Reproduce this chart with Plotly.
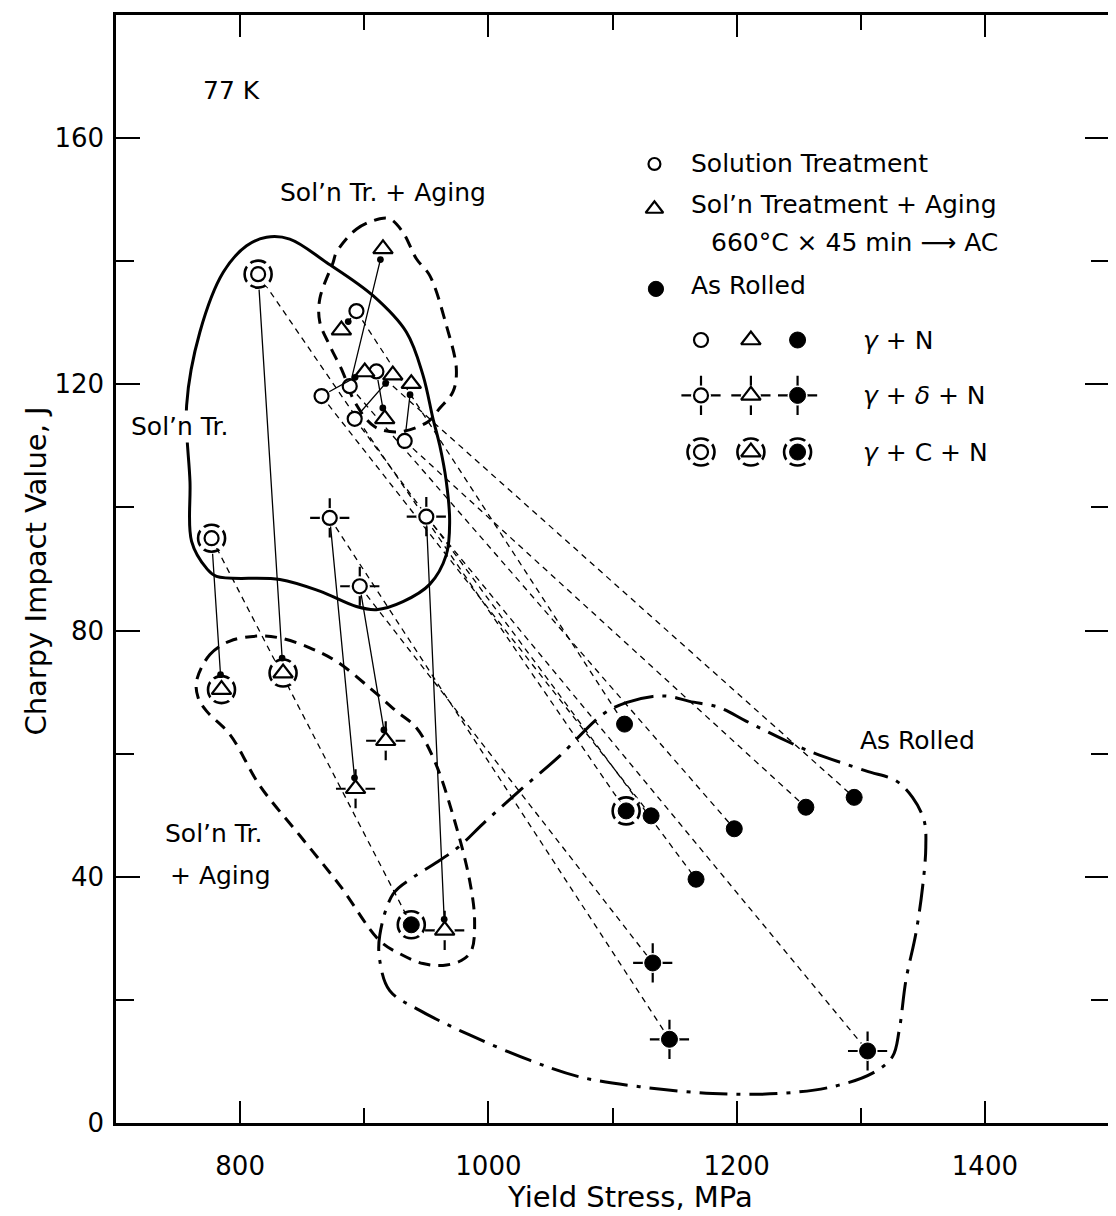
import plotly.graph_objects as go

# ---------------- data (yield stress MPa, Charpy J) ----------------
# Solution treated
st_gn_x = [893.7, 888.3, 865.6, 909.8, 892.3, 932.6]
st_gn_y = [131.9, 119.7, 118.1, 122.1, 114.4, 110.8]
st_gdn_x = [872.2, 950.0, 896.4]
st_gdn_y = [98.3, 98.5, 87.2]
st_gcn_x = [814.5, 777.0]
st_gcn_y = [137.9, 95.0]

# Solution treated + aged (same order as solution treated)
ag_gn_x = [881.6, 915.1, 900.4, 916.5, 923.0, 937.9]
ag_gn_y = [128.8, 142.0, 122.0, 114.4, 121.5, 120.1]
ag_gdn_x = [893.0, 964.8, 917.3]
ag_gdn_y = [54.3, 31.3, 62.1]
ag_gcn_x = [834.6, 785.0]
ag_gcn_y = [73.1, 70.4]

# As rolled (same order as solution treated)
ar_gn_x = [1109.7, 1198.1, 1131.1, 1294.7, 1167.3, 1255.8]
ar_gn_y = [64.8, 47.8, 49.9, 52.9, 39.6, 51.3]
ar_gdn_x = [1145.9, 1305.5, 1132.4]
ar_gdn_y = [13.6, 11.7, 26.0]
ar_gcn_x = [1111.0, 937.9]
ar_gcn_y = [50.7, 32.2]

# Region outlines
sol_x = [756.9, 767.6, 786.4, 805.2, 821.3, 840.0, 869.6, 907.1, 933.9, 947.3, 955.4, 960.8,
         966.1, 968.8, 966.1, 952.7, 931.2, 909.8, 893.7, 864.2, 832.0, 781.0, 773.0, 760.9, 759.6]
sol_y = [116.6, 128.5, 138.2, 142.5, 143.9, 143.6, 139.8, 134.4, 128.5, 121.5, 114.4, 110.1,
         104.2, 97.7, 92.3, 87.5, 84.7, 83.4, 83.9, 86.4, 88.3, 88.8, 90.1, 94.5, 104.2]
agu_x = [877.5, 893.6, 912.5, 920.5, 931.2, 942.0, 952.7, 966.1, 974.2, 971.5, 960.8, 951.1,
         928.6, 908.5, 892.4, 882.7, 872.2, 864.2, 864.2, 874.9]
agu_y = [141.4, 145.2, 146.9, 146.9, 144.7, 140.4, 137.7, 129.6, 122.5, 118.8, 116.1, 113.9,
         112.3, 113.1, 117.1, 122.0, 126.3, 130.1, 133.9, 139.8]
agl_x = [764.9, 775.7, 791.8, 813.2, 832.0, 856.1, 877.6, 904.4, 925.9, 942.0, 956.7, 972.8,
         984.9, 988.9, 986.3, 978.2, 963.4, 947.3, 928.6, 912.5, 880.3, 848.1, 815.9, 791.8, 773.0, 766.2]
agl_y = [71.8, 76.1, 78.3, 79.1, 78.8, 77.2, 75.0, 70.7, 66.9, 64.2, 58.8, 49.1,
         39.4, 32.9, 28.0, 26.4, 25.6, 25.9, 27.5, 29.6, 38.6, 46.7, 54.8, 63.1, 66.9, 69.1]
arr_x = [1092.2, 1111.0, 1132.4, 1145.9, 1162.0, 1186.1, 1207.6, 1239.8, 1261.2, 1304.2, 1328.3,
         1341.7, 1351.1, 1352.4, 1349.8, 1344.4, 1336.4, 1331.0, 1325.6, 1309.5, 1277.3, 1234.4,
         1180.7, 1121.7, 1073.4, 1033.2, 984.9, 944.7, 920.5, 912.5, 912.5, 923.2, 939.3, 958.1,
         976.9, 995.6, 1025.2, 1057.3]
arr_y = [66.4, 68.3, 69.3, 69.3, 68.5, 67.5, 65.3, 62.1, 60.2, 57.2, 55.6, 52.9, 49.1, 44.8,
         38.3, 30.8, 23.2, 15.1, 10.8, 8.1, 5.9, 4.8, 4.8, 5.9, 7.5, 10.2, 14.3, 18.3, 21.5,
         26.4, 30.5, 37.2, 39.9, 42.3, 45.0, 48.6, 54.0, 59.6]

x_ticks = [800, 1000, 1200, 1400]
x_minor = [900, 1100, 1300]
y_ticks = [0, 40, 80, 120, 160]
y_minor = [20, 60, 100, 140]

FONT = "DejaVu Sans"
fig = go.Figure()


def seg_trace(x0, y0, x1, y1, dash, width):
    xs, ys = [], []
    for a, b, c, d in zip(x0, y0, x1, y1):
        xs += [a, c, None]
        ys += [b, d, None]
    fig.add_trace(go.Scatter(x=xs, y=ys, mode="lines", hoverinfo="skip", showlegend=False,
                             line=dict(color="black", width=width, dash=dash)))


def outline(xs, ys, dash, width=3):
    fig.add_trace(go.Scatter(x=xs + xs[:1], y=ys + ys[:1], mode="lines", hoverinfo="skip",
                             showlegend=False,
                             line=dict(color="black", width=width, dash=dash,
                                       shape="spline", smoothing=1.0)))


def mk(xs, ys, **m):
    fig.add_trace(go.Scatter(x=xs, y=ys, mode="markers", hoverinfo="skip", showlegend=False,
                             marker=m))


def symbols(xs, ys, kind, deco, scale=1.0):
    if deco == "d":
        mk(xs, ys, symbol="cross-thin", size=28 * scale, color="black",
           line=dict(color="black", width=2.2))
        mk(xs, ys, symbol="circle", size=20 * scale, color="white", line=dict(width=0))
    if deco == "c":
        mk(xs, ys, symbol="circle-open", size=27 * scale, color="black",
           line=dict(color="black", width=2.6))
        mk(xs, ys, symbol="circle", size=21 * scale, color="white", line=dict(width=0))
        mk(xs, ys, symbol="x-thin", size=24 * scale, color="white",
           line=dict(color="white", width=5))
    if kind == "st":
        mk(xs, ys, symbol="circle", size=14 * scale, color="white",
           line=dict(color="black", width=2.2))
    elif kind == "ag":
        mk(xs, ys, symbol="triangle-up", size=17 * scale, color="white",
           line=dict(color="black", width=2.2))
    else:
        mk(xs, ys, symbol="circle", size=16 * scale, color="black",
           line=dict(color="black", width=1))


# region outlines
outline(sol_x, sol_y, "solid", 3)
outline(agu_x, agu_y, "12px,8px", 3)
outline(agl_x, agl_y, "12px,8px", 3)
outline(arr_x, arr_y, "28px,9px,4px,9px", 3)

# connecting lines: solution treated -> as rolled (dashed)
seg_trace(st_gn_x + st_gdn_x + st_gcn_x, st_gn_y + st_gdn_y + st_gcn_y,
          ar_gn_x + ar_gdn_x + ar_gcn_x, ar_gn_y + ar_gdn_y + ar_gcn_y, "6px,5px", 1.3)

# data symbols
symbols(st_gn_x, st_gn_y, "st", "n")
symbols(st_gdn_x, st_gdn_y, "st", "d")
symbols(st_gcn_x, st_gcn_y, "st", "c")
symbols(ag_gn_x, ag_gn_y, "ag", "n")
symbols(ag_gdn_x, ag_gdn_y, "ag", "d")
symbols(ag_gcn_x, ag_gcn_y, "ag", "c")
symbols(ar_gn_x, ar_gn_y, "ar", "n")
symbols(ar_gdn_x, ar_gdn_y, "ar", "d")
symbols(ar_gcn_x, ar_gcn_y, "ar", "c")

# legend (drawn inside plot)
leg_kind_x = [1133.8, 1133.8, 1135.0]
leg_kind_y = [155.8, 148.5, 135.5]
symbols([leg_kind_x[0]], [leg_kind_y[0]], "st", "n", 0.85)
symbols([leg_kind_x[1]], [leg_kind_y[1]], "ag", "n", 0.9)
symbols([leg_kind_x[2]], [leg_kind_y[2]], "ar", "n", 0.95)
tab_x = [1171.3, 1211.5, 1249.1]
tab_y = [127.2, 118.2, 109.0]
for kind, tx in zip(["st", "ag", "ar"], tab_x):
    for deco, ty in zip(["n", "d", "c"], tab_y):
        symbols([tx], [ty], kind, deco)

annotations = []
# solid arrows (dot heads): solution treated -> aged
st_all = list(zip(st_gn_x + st_gdn_x + st_gcn_x, st_gn_y + st_gdn_y + st_gcn_y,
                  ["n"] * 6 + ["d"] * 3 + ["c"] * 2))
ag_all = list(zip(ag_gn_x + ag_gdn_x + ag_gcn_x, ag_gn_y + ag_gdn_y + ag_gcn_y,
                  ["n"] * 6 + ["d"] * 3 + ["c"] * 2))
for (sx, sy, sd), (ax_, ay_, ad) in zip(st_all, ag_all):
    annotations.append(dict(
        xref="x", yref="y", axref="x", ayref="y", x=ax_, y=ay_, ax=sx, ay=sy, text="",
        showarrow=True, arrowhead=6, arrowsize=1.3, arrowwidth=1.3, arrowcolor="black",
        standoff=15 if ad == "c" else 11, startstandoff=14 if sd == "c" else 7))

txt = dict(family=FONT, size=25, color="black")
ann = [
    dict(x=1162.0, y=155.8, text="Solution Treatment", xanchor="left"),
    dict(x=1162.0, y=149.2, text="Sol’n Treatment + Aging", xanchor="left"),
    dict(x=1178.1, y=143.1, text="660°C × 45 min ⟶ AC", xanchor="left"),
    dict(x=1162.0, y=136.0, text="As Rolled", xanchor="left"),
    dict(x=1300.2, y=tab_y[0], text="<i>γ</i> + N", xanchor="left"),
    dict(x=1300.2, y=tab_y[1], text="<i>γ</i> + <i>δ</i> + N", xanchor="left"),
    dict(x=1300.2, y=tab_y[2], text="<i>γ</i> + C + N", xanchor="left"),
    dict(x=793.4, y=167.7, text="77 K"),
    dict(x=914.9, y=151.2, text="Sol’n Tr. + Aging"),
    dict(x=751.5, y=113.1, text="Sol’n Tr.", bgcolor="white"),
    dict(x=778.9, y=47.0, text="Sol’n Tr."),
    dict(x=784.5, y=40.2, text="+ Aging"),
    dict(x=1345.5, y=62.1, text="As Rolled"),
]
for a in ann:
    d = dict(xref="x", yref="y", showarrow=False, font=txt, xanchor="center", yanchor="middle")
    d.update(a)
    annotations.append(d)
annotations.append(dict(xref="paper", yref="paper", x=0.518, y=-0.0666, showarrow=False,
                        text="Yield Stress, MPa", font=dict(family=FONT, size=29, color="black"),
                        xanchor="center", yanchor="middle"))
annotations.append(dict(xref="paper", yref="paper", x=-0.0815, y=0.4977, showarrow=False,
                        text="Charpy Impact Value, J", textangle=-90,
                        font=dict(family=FONT, size=29, color="black"),
                        xanchor="center", yanchor="middle"))

axis_common = dict(showgrid=False, zeroline=False, showline=True, linecolor="black",
                   linewidth=2.5, mirror="ticks", ticks="inside", tickcolor="black",
                   tickwidth=2.2, tickfont=dict(family=FONT, size=26, color="black"))
# the page body has an 8px margin; the figure size compensates for it
fig.update_layout(
    width=1108, height=1208,
    margin=dict(l=108, r=6, t=4, b=93),
    paper_bgcolor="white", plot_bgcolor="white",
    showlegend=False,
    annotations=annotations,
    xaxis=dict(range=[700, 1500], tickvals=x_ticks, ticklen=22, ticklabelstandoff=18,
               minor=dict(tickvals=x_minor, ticklen=15, ticks="inside", tickwidth=2.2,
                          tickcolor="black"),
               **axis_common),
    yaxis=dict(range=[0, 180], tickvals=y_ticks, ticklen=24, ticklabelstandoff=4,
               minor=dict(tickvals=y_minor, ticklen=18, ticks="inside", tickwidth=2.2,
                          tickcolor="black"),
               **axis_common),
)

fig.write_html("out.html")
